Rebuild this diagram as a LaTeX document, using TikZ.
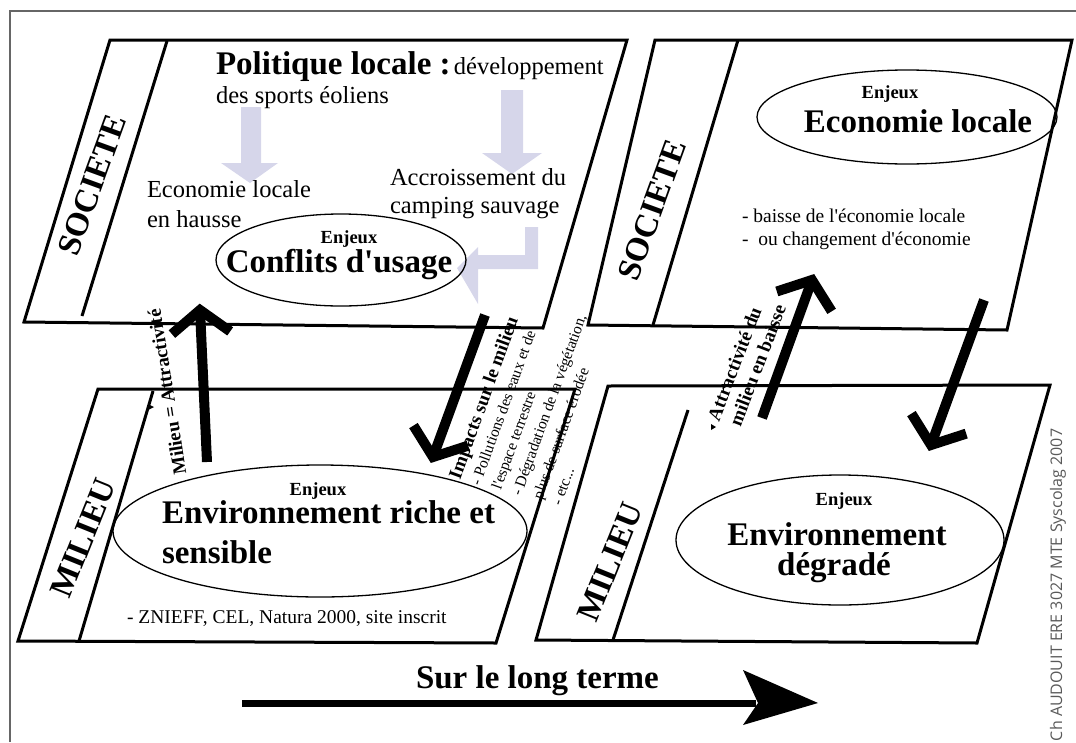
\documentclass[tikz,border=0pt]{standalone}
\usepackage{fontspec}
\setmainfont{Liberation Serif}
\newfontfamily\plain{Liberation Serif}
\newfontfamily\credfont{Open Sans}
\usetikzlibrary{shapes.geometric,calc}
\definecolor{lav}{RGB}{214,214,234}
\begin{document}
\begin{tikzpicture}[x=1pt,y=-1pt,
  box/.style={line width=3pt, line join=miter},
  ell/.style={draw, ellipse, line width=1.3pt, inner sep=0pt},
  big/.style={font=\plain\bfseries\fontsize{33}{36}\selectfont},
  enj/.style={font=\plain\bfseries\fontsize{18.5}{20}\selectfont},
  txt/.style={font=\plain\fontsize{24.5}{28}\selectfont},
  sm/.style={font=\plain\fontsize{19.5}{22}\selectfont},
  lst/.style={font=\plain\fontsize{15.5}{18}\selectfont},
  smb/.style={font=\plain\bfseries\fontsize{19}{22}\selectfont},
  bar/.style={line width=10pt},
  barhead/.style={line width=10pt, line join=miter},
  lbl/.style={inner sep=0pt, outer sep=0pt}
]
\useasboundingbox (0,0) rectangle (1076,742);
% outer frame
\draw[line width=1.5pt, black!60] (10,742) -- (10,11) -- (1076,11);

% light arrows
\fill[lav] (241,107) -- (261,107) -- (261,163) -- (278,163) -- (250,183) -- (221,163) -- (241,163) -- cycle;
\fill[lav] (501,90) -- (523,90) -- (523,153) -- (542,153) -- (512,174) -- (482,153) -- (501,153) -- cycle;
\fill[lav] (525,227) -- (538,227) -- (538,269) -- (478,269) -- (478,304) -- (457,268) -- (478,247) -- (478,255) -- (525,255) -- cycle;

% boxes
\draw[box] (110,40) -- (627,40) -- (543,328) -- (24,322) -- cycle;
\draw[box] (167,41) -- (82,316);
\draw[box] (655,40) -- (1072,40) -- (1007,330) -- (588,325) -- cycle;
\draw[box] (738,40) -- (653,325);
\draw[box] (98,389) -- (575,389) -- (496,643) -- (18,641) -- cycle;
\draw[box] (153,391) -- (79,641);
\draw[box] (608,386) -- (1050,385) -- (977,643) -- (536,640) -- cycle;
\draw[box] (688,410) -- (613,640);

% ellipses
\node[ell, minimum width=250pt, minimum height=92pt] (e1) at (341,260) {};
\node[ell, minimum width=300pt, minimum height=94pt] (e2) at (907,117) {};
\node[ell, minimum width=414pt, minimum height=132pt] (e3) at (320,531) {};
\node[ell, minimum width=328pt, minimum height=130pt] (e4) at (840,540) {};

% strip labels
\node[lbl, big, rotate=70] (soc1) at (92,185) {SOCIETE};
\node[lbl, big, rotate=70] (soc2) at (652,210) {SOCIETE};
\node[lbl, big, rotate=68] (mil1) at (83,538) {MILIEU};
\node[lbl, big, rotate=68] (mil2) at (610,562) {MILIEU};

% top-left texts
\node[lbl, anchor=base west] (pol) at (216,74) {{\plain\bfseries\fontsize{33}{36}\selectfont Politique locale :} {\plain\fontsize{24.5}{28}\selectfont développement}};
\node[lbl, anchor=base west, txt] (sport) at (216,103) {des sports éoliens};
\node[lbl, anchor=base west, txt] (eco1) at (147,197) {Economie locale};
\node[lbl, anchor=base west, txt] (eco2) at (147,227) {en hausse};
\node[lbl, anchor=base west, txt] (acc1) at (390,185) {Accroissement du};
\node[lbl, anchor=base west, txt] (acc2) at (390,213) {camping sauvage};
\node[lbl, anchor=base, enj] (enj1) at (349,243) {Enjeux};
\node[lbl, anchor=base, big] (conf) at (339,272) {Conflits d'usage};

% top-right texts
\node[lbl, anchor=base, enj] (enj2) at (890,98) {Enjeux};
\node[lbl, anchor=base, big] (ecl) at (918,132) {Economie locale};
\node[lbl, anchor=base west, sm] (bai1) at (742,222) {- baisse de l'économie locale};
\node[lbl, anchor=base west, sm] (bai2) at (742,245) {-\ \ ou changement d'économie};

% bottom-left texts
\node[lbl, anchor=base, enj] (enj3) at (318,495) {Enjeux};
\node[lbl, anchor=base west, big] (env1) at (162,523) {Environnement riche et};
\node[lbl, anchor=base west, big] (env2) at (162,563) {sensible};
\node[lbl, anchor=base west, sm] (zni) at (127,623) {- ZNIEFF, CEL, Natura 2000, site inscrit};

% bottom-right texts
\node[lbl, anchor=base, enj] (enj4) at (844,505) {Enjeux};
\node[lbl, anchor=base, big] (deg1) at (837,545) {Environnement};
\node[lbl, anchor=base, big] (deg2) at (834,575) {dégradé};

% rotated arrow labels
\node[lbl, smb, rotate=99] (attr) at (167,392) {Milieu = Attractivité};
\begin{scope}[shift={(460,480)}, rotate=70, transform shape]
  \node[lbl, anchor=base west, smb] (imp1) at (0pt,0pt) {Impacts sur le milieu};
  \node[lbl, anchor=base west, lst] (imp2) at (1pt,-21pt) {- Pollutions des eaux et de};
  \node[lbl, anchor=base west, lst] (imp3) at (4pt,-42pt) {l'espace terrestre};
  \node[lbl, anchor=base west, lst] (imp4) at (5pt,-63pt) {- Dégradation de la végétation,};
  \node[lbl, anchor=base west, lst] (imp5) at (9pt,-84pt) {plus de surface érodée};
  \node[lbl, anchor=base west, lst] (imp6) at (10pt,-104pt) {- etc...};
\end{scope}
\begin{scope}[shift={(719,422)}, rotate=69, transform shape]
  \node[lbl, anchor=base west, smb] (bas1) at (0pt,0pt) {Attractivité du};
  \node[lbl, anchor=base west, smb] (bas2) at (3pt,-22pt) {milieu en baisse};
\end{scope}
\fill (148,404) -- (154,407) -- (148,410) -- cycle;
\fill (711,424) -- (716,427) -- (711,430) -- cycle;

% black arrows
\coordinate (a1s) at (207,462); \coordinate (a1t) at (200,310);
\coordinate (a2s) at (485,315); \coordinate (a2t) at (433,457);
\coordinate (a3s) at (762,418); \coordinate (a3t) at (812,280);
\coordinate (a4s) at (984,300); \coordinate (a4t) at (931,445);
\foreach \s/\t in {a1s/a1t, a2s/a2t, a3s/a3t, a4s/a4t}{
  \draw[bar] (\s) -- (\t);
  \draw[barhead] ($(\t)!37pt!52:(\s)$) -- (\t) -- ($(\t)!37pt!-52:(\s)$);
}

% long term arrow
\node[lbl, anchor=base west, big] (lt) at (416,688) {Sur le long terme};
\coordinate (lt1) at (242,703); \coordinate (lt2) at (818,703);
\draw[line width=7pt] (lt1) -- ($(lt2)+(-62,0)$);
\fill (lt2) -- ($(lt2)+(-75,-33)$) -- ($(lt2)+(-60,0)$) -- ($(lt2)+(-75,22)$) -- cycle;

% credit
\node[lbl, anchor=base west, rotate=90, font=\credfont\fontsize{16}{19}\selectfont, text=black!65] (cred) at (1062,741) {Ch AUDOUIT ERE 3027 MTE Syscolag 2007};
\end{tikzpicture}
\end{document}
